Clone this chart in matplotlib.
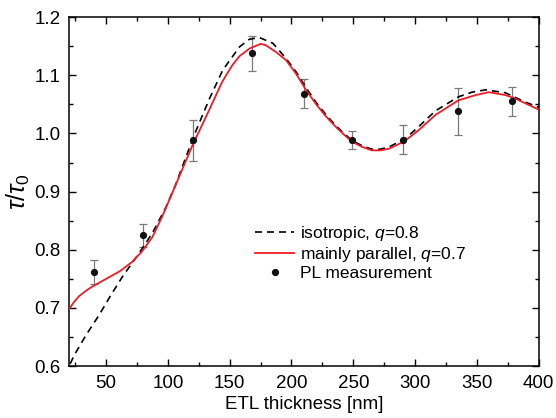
import matplotlib
matplotlib.use('Agg')
import matplotlib.pyplot as plt
from matplotlib.ticker import MultipleLocator

plt.rcParams['font.family'] = ['Liberation Sans', 'DejaVu Sans']
plt.rcParams['mathtext.fontset'] = 'custom'
plt.rcParams['mathtext.rm'] = 'Liberation Sans'
plt.rcParams['mathtext.it'] = 'Liberation Sans:italic'

# isotropic, q=0.8 (dashed)
iso_x = [21, 24.3, 33.7, 44.4, 53.9, 63.3, 72.7, 82.1, 88.8, 98.2, 106.3, 114,
         123, 133.7, 144.4, 158, 166, 174, 185, 195.6, 204, 212, 220, 228, 236,
         243, 249, 257, 265, 272, 279, 292, 303, 316.5, 335, 346, 357, 373, 389,
         400]
iso_y = [0.604, 0.619, 0.653, 0.688, 0.722, 0.754, 0.782, 0.811, 0.834, 0.872,
         0.912, 0.956, 1.006, 1.060, 1.109, 1.149, 1.162, 1.165, 1.155, 1.129,
         1.105, 1.078, 1.053, 1.032, 1.013, 0.999, 0.988, 0.979, 0.973, 0.973,
         0.977, 0.991, 1.012, 1.039, 1.063, 1.071, 1.075, 1.070, 1.054, 1.045]

# mainly parallel, q=0.7 (red)
par_x = [20, 24, 28, 34, 39, 50, 61, 71, 79, 87.5, 95.6, 103.6, 108, 120, 134,
         144, 152, 158, 166, 175, 179, 187.5, 195.6, 203.6, 211.7, 220, 228, 236,
         243, 249, 257, 265, 272, 279, 291, 303, 316.5, 335, 349, 359.5, 373, 381,
         389, 400]
par_y = [0.698, 0.710, 0.720, 0.730, 0.737, 0.750, 0.763, 0.779, 0.797, 0.822,
         0.858, 0.898, 0.920, 0.980, 1.043, 1.089, 1.117, 1.133, 1.146, 1.154,
         1.152, 1.140, 1.126, 1.103, 1.075, 1.050, 1.029, 1.011, 0.997, 0.986,
         0.977, 0.971, 0.971, 0.974, 0.986, 1.006, 1.032, 1.057, 1.066, 1.071,
         1.066, 1.060, 1.052, 1.041]

# PL measurement
pl_x = [40, 80, 120, 168, 210, 249, 290, 335, 378]
pl_y = [0.762, 0.825, 0.988, 1.138, 1.068, 0.989, 0.989, 1.038, 1.055]
pl_err = [0.020, 0.020, 0.035, 0.030, 0.025, 0.015, 0.025, 0.040, 0.025]

fig = plt.figure(figsize=(5.56, 4.18), dpi=100)
ax = fig.add_axes([0.124, 0.124, 0.845, 0.835])

ax.errorbar(pl_x, pl_y, yerr=pl_err, fmt='none', ecolor='#7a7a7a',
            elinewidth=0.9, capsize=3, capthick=0.9, zorder=2)
ax.plot(iso_x, iso_y, color='black', lw=1.2, dashes=(4.2, 3.0),
        label='isotropic, $q$=0.8', zorder=3)
ax.plot(par_x, par_y, color='#ee1c25', lw=1.3,
        label='mainly parallel, $q$=0.7', zorder=4)
ax.plot(pl_x, pl_y, 'o', color='#111111', ms=4.2, ls='None',
        label='PL measurement', zorder=5)

ax.set_xlim(20, 400)
ax.set_ylim(0.6, 1.2)
ax.xaxis.set_major_locator(MultipleLocator(50))
ax.xaxis.set_minor_locator(MultipleLocator(25))
ax.yaxis.set_major_locator(MultipleLocator(0.1))
ax.yaxis.set_minor_locator(MultipleLocator(0.05))
ax.yaxis.set_major_formatter(plt.FormatStrFormatter('%.1f'))
ax.tick_params(which='both', direction='in', top=True, right=True,
               labelsize=13.5, width=1.0, pad=6)
ax.tick_params(which='major', length=5)
ax.tick_params(which='minor', length=3)
for s in ax.spines.values():
    s.set_linewidth(1.1)

ax.set_xlabel('ETL thickness [nm]', fontsize=13.5, labelpad=3)
ax.set_ylabel(r'$\tau/\tau_0$', fontsize=18, labelpad=2)

ax.legend(loc='upper left', bbox_to_anchor=(0.396, 0.407), frameon=False,
          fontsize=12.5, handlelength=2.25, handletextpad=0.35,
          labelspacing=0.1, borderpad=0, borderaxespad=0)

fig.savefig('out.png', dpi=100)
